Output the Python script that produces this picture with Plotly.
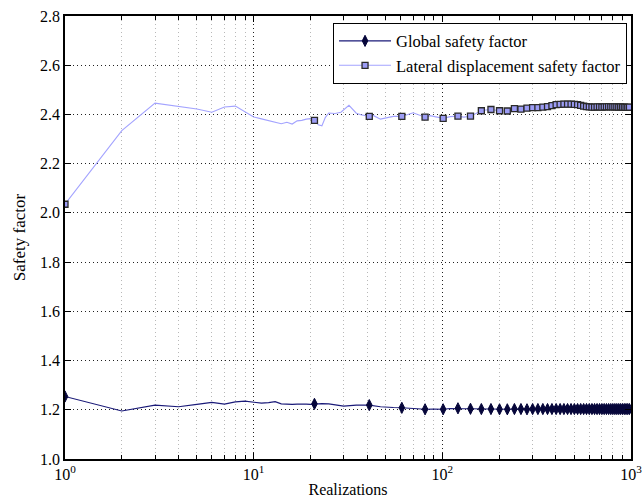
import plotly.graph_objects as go

# Running safety factor versus number of Monte Carlo realizations
global_n = [1, 2, 3, 4, 5, 6, 7, 8, 9, 10, 11, 12, 13, 14, 15, 16, 17, 18, 19, 20,
            21, 23, 25, 27, 30, 35, 41, 47, 51, 55, 61, 70, 81, 90, 101, 110, 121,
            130, 141, 161, 181, 201, 221, 241, 261, 281, 301, 321, 341, 361, 381,
            401, 421, 441, 461, 481, 501, 521, 541, 561, 581, 601, 621, 641, 661,
            681, 701, 721, 741, 761, 781, 801, 821, 841, 861, 881, 901, 921, 941,
            961, 981, 1000]
global_sf = [1.254, 1.195, 1.219, 1.212, 1.222, 1.230, 1.223, 1.232, 1.235, 1.232,
             1.227, 1.229, 1.233, 1.224, 1.222, 1.222, 1.223, 1.224, 1.223, 1.222,
             1.224, 1.225, 1.224, 1.221, 1.215, 1.219, 1.219, 1.212, 1.212, 1.209,
             1.208, 1.205, 1.202, 1.203, 1.202, 1.205, 1.206, 1.204, 1.204, 1.203,
             1.203, 1.202, 1.202, 1.203, 1.203, 1.202, 1.203, 1.203, 1.203, 1.203,
             1.203, 1.203, 1.203, 1.203, 1.203, 1.203, 1.203, 1.203, 1.203, 1.203,
             1.203, 1.203, 1.203, 1.203, 1.203, 1.203, 1.203, 1.203, 1.203, 1.203,
             1.203, 1.203, 1.203, 1.203, 1.203, 1.203, 1.203, 1.203, 1.203, 1.203,
             1.203, 1.203]

lateral_n = [1, 2, 3, 4, 5, 6, 7, 8, 9, 10, 11, 12, 13, 14, 15, 16, 17, 18, 19, 20,
             21, 22, 23, 24, 25, 27, 29, 32, 35, 37, 41, 43, 47, 51, 55, 61, 70, 81,
             86, 101, 110, 121, 130, 141, 150, 161, 170, 181, 201, 221, 241, 261,
             281, 301, 321, 341, 361, 381, 401, 421, 441, 461, 481, 501, 521, 541,
             561, 581, 601, 621, 641, 661, 681, 701, 721, 741, 761, 781, 801, 821,
             841, 861, 881, 901, 921, 941, 961, 981, 1000]
lateral_sf = [2.035, 2.334, 2.446, 2.434, 2.422, 2.409, 2.430, 2.434, 2.410, 2.390,
              2.382, 2.375, 2.366, 2.362, 2.368, 2.361, 2.374, 2.376, 2.381, 2.383,
              2.376, 2.358, 2.354, 2.388, 2.406, 2.404, 2.409, 2.437, 2.405, 2.399,
              2.392, 2.396, 2.381, 2.388, 2.392, 2.392, 2.407, 2.389, 2.395, 2.384,
              2.391, 2.393, 2.389, 2.393, 2.402, 2.415, 2.418, 2.420, 2.415, 2.414,
              2.424, 2.422, 2.426, 2.428, 2.428, 2.430, 2.432, 2.436, 2.440, 2.441,
              2.442, 2.442, 2.442, 2.441, 2.440, 2.437, 2.434, 2.432, 2.431, 2.430,
              2.430, 2.431, 2.431, 2.430, 2.431, 2.431, 2.432, 2.431, 2.431, 2.431,
              2.431, 2.430, 2.431, 2.430, 2.430, 2.429, 2.429, 2.430, 2.430]

# markers every 20 realizations (1, 21, 41, ...)
MARK_STEP = 20
x_ticks = [1, 10, 100, 1000]
x_ticktext = ["10<sup>0</sup>", "10<sup>1</sup>", "10<sup>2</sup>", "10<sup>3</sup>"]

GLOBAL_LINE = "#1a1a78"
GLOBAL_MARK = "#06063a"
LATERAL_LINE = "#a3a3ff"
LATERAL_MARK = "#9c9cf5"
FONT = "Liberation Serif"


def marked(ns, vals):
    pts = [(n, v) for n, v in zip(ns, vals) if (n - 1) % MARK_STEP == 0]
    return [p[0] for p in pts], [p[1] for p in pts]


fig = go.Figure()

series = [
    ("Global safety factor", global_n, global_sf, GLOBAL_LINE,
     dict(symbol="diamond-tall", size=8, color=GLOBAL_MARK, line=dict(color=GLOBAL_MARK, width=1))),
    ("Lateral displacement safety factor", lateral_n, lateral_sf, LATERAL_LINE,
     dict(symbol="square", size=6, color=LATERAL_MARK, line=dict(color="#2a2a2a", width=1.3))),
]

for name, ns, vals, lcol, mk in series:
    fig.add_trace(go.Scatter(x=ns, y=vals, mode="lines", line=dict(color=lcol, width=1.1),
                             showlegend=False, hoverinfo="skip"))
    mx, my = marked(ns, vals)
    fig.add_trace(go.Scatter(x=mx, y=my, mode="markers", marker=mk, showlegend=False))
    # legend entry with line and marker together
    fig.add_trace(go.Scatter(x=[None], y=[None], mode="lines+markers", name=name,
                             line=dict(color=lcol, width=1.1), marker=mk))

axis_common = dict(
    showline=True, linecolor="black", linewidth=1.5, mirror="ticks",
    ticks="inside", ticklen=6, tickcolor="black", tickwidth=1,
    showgrid=True, gridcolor="#222222", gridwidth=1, griddash="1px,3px",
    zeroline=False, automargin=False,
    tickfont=dict(family=FONT, size=16, color="black"),
)

fig.update_xaxes(
    type="log", range=[0, 3], tickvals=x_ticks, ticktext=x_ticktext,
    title=dict(text="Realizations", font=dict(family=FONT, size=16, color="black"), standoff=2),
    minor=dict(dtick="D1", ticks="inside", ticklen=4, tickcolor="black",
               showgrid=True, gridcolor="#b8b8b8", gridwidth=1, griddash="1px,3px"),
    **axis_common,
)
fig.update_yaxes(
    range=[1.0, 2.8], dtick=0.2, tickformat=".1f",
    title=dict(text="Safety factor", font=dict(family=FONT, size=17, color="black"), standoff=10),
    **axis_common,
)

fig.update_layout(
    width=643, height=503,
    margin=dict(l=65, r=12, t=16, b=44),
    paper_bgcolor="white", plot_bgcolor="white",
    font=dict(family=FONT, size=16, color="black"),
    legend=dict(x=0.993, y=0.985, xanchor="right", yanchor="top",
                bgcolor="white", bordercolor="black", borderwidth=1,
                font=dict(family=FONT, size=16.5, color="black"),
                itemwidth=52, tracegroupgap=0, itemsizing="trace"),
)

fig.write_html("out.html")
